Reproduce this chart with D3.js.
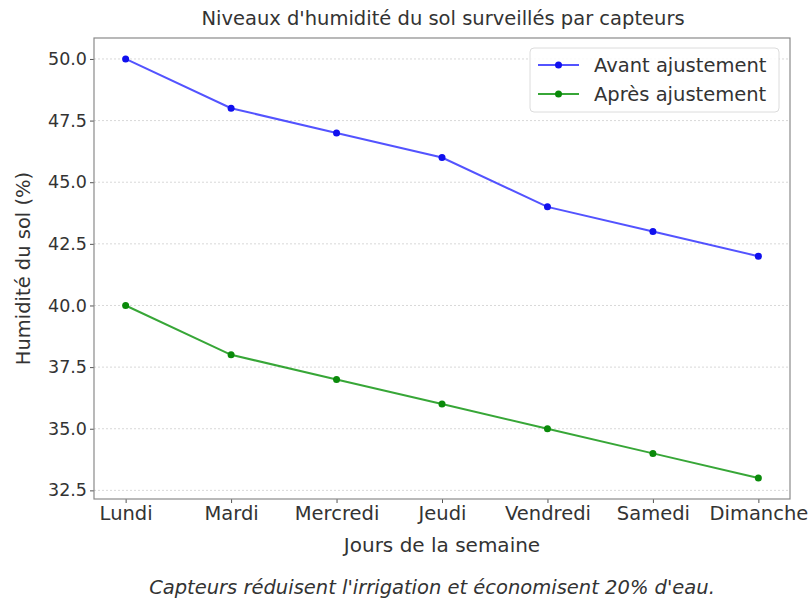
<!DOCTYPE html>
<html>
<head>
<meta charset="utf-8">
<script src="https://cdn.jsdelivr.net/npm/d3@7"></script>
<style>
  body { margin: 0; background: #fff; }
  text { font-family: 'DejaVu Sans', sans-serif; fill: #333; }
</style>
</head>
<body>
<svg></svg>
<script>
// data

const days = ['Lundi', 'Mardi', 'Mercredi', 'Jeudi', 'Vendredi', 'Samedi', 'Dimanche'];
const avant = [50, 48, 47, 46, 44, 43, 42];
const apres = [40, 38, 37, 36, 35, 34, 33];
const yTicks = [32.5, 35.0, 37.5, 40.0, 42.5, 45.0, 47.5, 50.0];

const series = [
  { name: 'Avant ajustement', values: avant, line: 'rgba(40,40,255,0.8)', dot: '#1010ee' },
  { name: 'Après ajustement', values: apres, line: 'rgba(20,150,20,0.85)', dot: '#0a8a0a' }
];

const W = 812, H = 598;
const plot = { left: 94, right: 790, top: 38, bottom: 499 };

const svg = d3.select('svg')
  .attr('width', W)
  .attr('height', H);

// scales (matplotlib style 5% padding)

const x = d3.scaleLinear()
  .domain([-0.3, days.length - 1 + 0.3])
  .range([plot.left, plot.right]);

const yMin = 33, yMax = 50, pad = (yMax - yMin) * 0.05;
const y = d3.scaleLinear()
  .domain([yMin - pad, yMax + pad])
  .range([plot.bottom, plot.top]);

// grid

svg.append('g')
  .selectAll('line')
  .data(yTicks)
  .enter()
    .append('line')
    .attr('x1', plot.left)
    .attr('x2', plot.right)
    .attr('y1', d => y(d))
    .attr('y2', d => y(d))
    .attr('stroke', '#d8d8d8')
    .attr('stroke-width', 1)
    .attr('stroke-dasharray', '2,2');

// axes

const yAxis = d3.axisLeft(y)
  .tickValues(yTicks)
  .tickFormat(d3.format('.1f'))
  .tickSize(4)
  .tickPadding(3);

const xAxis = d3.axisBottom(x)
  .tickValues(d3.range(days.length))
  .tickFormat(i => days[i])
  .tickSize(4)
  .tickPadding(3);

const yAxisG = svg.append('g')
  .attr('transform', `translate(${plot.left},0)`)
  .call(yAxis);

const xAxisG = svg.append('g')
  .attr('transform', `translate(0,${plot.bottom})`)
  .call(xAxis);

[yAxisG, xAxisG].forEach(g => {
  g.select('.domain').remove();
  g.selectAll('.tick line').attr('stroke', '#555');
  g.selectAll('.tick text')
    .style('font-family', "'DejaVu Sans', sans-serif")
    .attr('fill', '#333');
});
yAxisG.selectAll('.tick text').style('font-size', '17.5px');
xAxisG.selectAll('.tick text').style('font-size', '19.5px');

// frame

svg.append('rect')
  .attr('x', plot.left)
  .attr('y', plot.top)
  .attr('width', plot.right - plot.left)
  .attr('height', plot.bottom - plot.top)
  .attr('fill', 'none')
  .attr('stroke', '#8a8a8a')
  .attr('stroke-width', 1.2);

// lines

const line = d3.line()
  .x((d, i) => x(i))
  .y(d => y(d));

series.forEach(s => {
  svg.append('path')
    .attr('d', line(s.values))
    .attr('fill', 'none')
    .attr('stroke', s.line)
    .attr('stroke-width', 2);

  svg.append('g')
    .selectAll('circle')
    .data(s.values)
    .enter()
      .append('circle')
      .attr('cx', (d, i) => x(i))
      .attr('cy', d => y(d))
      .attr('r', 3.5)
      .attr('fill', s.dot);
});

// legend

const legendG = svg.append('g')
  .attr('transform', 'translate(530,48)');

legendG.append('rect')
  .attr('width', 249)
  .attr('height', 64)
  .attr('rx', 4)
  .attr('fill', 'rgba(255,255,255,0.85)')
  .attr('stroke', '#dcdcdc');

series.forEach((s, i) => {
  const ly = 17 + i * 29;
  legendG.append('line')
    .attr('x1', 8).attr('x2', 49)
    .attr('y1', ly).attr('y2', ly)
    .attr('stroke', s.line)
    .attr('stroke-width', 2);
  legendG.append('circle')
    .attr('cx', 28.5).attr('cy', ly)
    .attr('r', 3.5)
    .attr('fill', s.dot);
  legendG.append('text')
    .attr('x', 64)
    .attr('y', ly + 7)
    .style('font-size', '19.5px')
    .text(s.name);
});

// titles

svg.append('text')
  .attr('x', 443)
  .attr('y', 25)
  .attr('text-anchor', 'middle')
  .style('font-size', '19.5px')
  .text("Niveaux d'humidité du sol surveillés par capteurs");

svg.append('text')
  .attr('x', 442)
  .attr('y', 552)
  .attr('text-anchor', 'middle')
  .style('font-size', '20px')
  .text('Jours de la semaine');

svg.append('text')
  .attr('transform', `translate(30,${(plot.top + plot.bottom) / 2}) rotate(-90)`)
  .attr('text-anchor', 'middle')
  .style('font-size', '19.5px')
  .text('Humidité du sol (%)');

svg.append('text')
  .attr('x', 432)
  .attr('y', 594)
  .attr('text-anchor', 'middle')
  .style('font-size', '19.5px')
  .style('font-style', 'italic')
  .text("Capteurs réduisent l'irrigation et économisent 20% d'eau.");
</script>
</body>
</html>
